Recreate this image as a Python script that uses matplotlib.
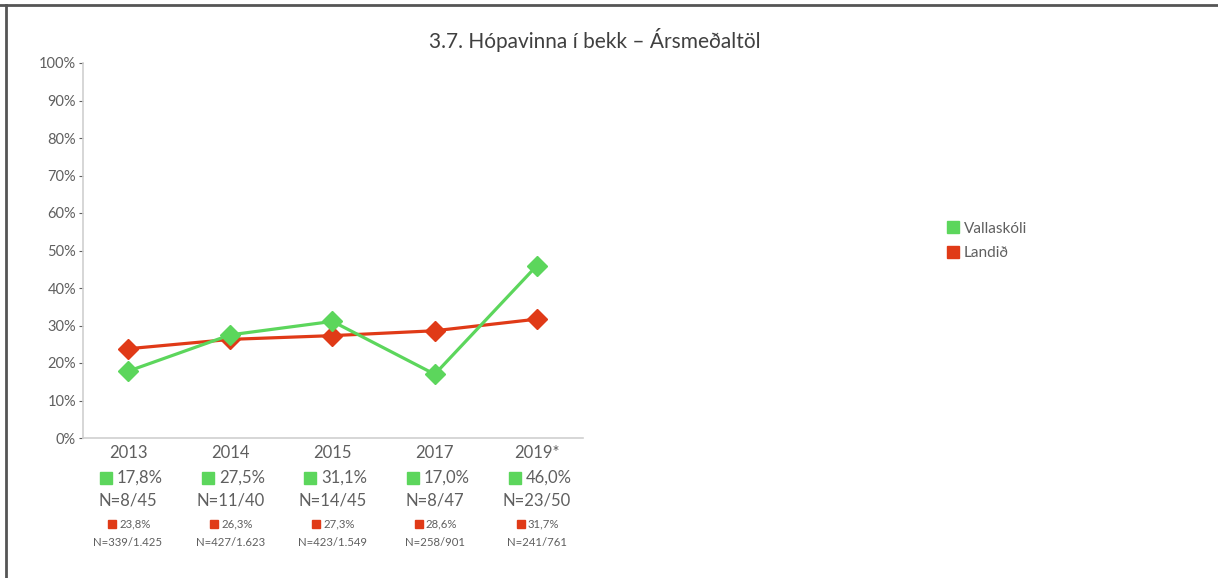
import matplotlib
matplotlib.use("Agg")
import matplotlib.pyplot as plt
from matplotlib.lines import Line2D
from matplotlib.transforms import blended_transform_factory, offset_copy

plt.rcParams['font.family'] = ['Lato', 'DejaVu Sans']

title = "3.7. Hópavinna í bekk – Ársmeðaltöl"
years = ["2013", "2014", "2015", "2017", "2019*"]
school_name = "Vallaskóli"
national_name = "Landið"
school_vals = [17.8, 27.5, 31.1, 17.0, 46.0]
national_vals = [23.8, 26.3, 27.3, 28.6, 31.7]
school_n = ["N=8/45", "N=11/40", "N=14/45", "N=8/47", "N=23/50"]
national_n = ["N=339/1.425", "N=427/1.623", "N=423/1.549", "N=258/901", "N=241/761"]
yticks = list(range(0, 101, 10))

GREEN = "#5cd65c"
RED = "#e03a17"
GRAY = "#5f5f5f"

W, H = 1218, 578
fig = plt.figure(figsize=(W / 100, H / 100), dpi=100)
ax = fig.add_axes([83 / W, (H - 438) / H, (583 - 83) / W, (438 - 63) / H])

x = list(range(len(years)))
ax.plot(x, school_vals, color=GREEN, lw=2.3, marker='D', ms=10, zorder=3)
ax.plot(x, national_vals, color=RED, lw=2.3, marker='D', ms=10, zorder=2)

ax.set_xlim(-0.44, 4.45)
ax.set_ylim(0, 100)
ax.set_yticks(yticks)
ax.set_yticklabels([f"{v}%" for v in yticks], color=GRAY, fontsize=10.5)
ax.set_xticks([])
for s in ["top", "right"]:
    ax.spines[s].set_visible(False)
for s in ["left", "bottom"]:
    ax.spines[s].set_color("#d0d0d0")
    ax.spines[s].set_linewidth(1.2)
ax.tick_params(axis='y', length=3, color=GRAY, pad=2)

px = 0.72  # points per pixel
btrans = blended_transform_factory(ax.transData, ax.transAxes)

def lab(i, dx, dy, txt, **kw):
    ax.annotate(txt, xy=(i, 0), xycoords=('data', 'axes fraction'),
                xytext=(dx * px, dy * px), textcoords='offset points',
                va='center', annotation_clip=False, **kw)

def square(i, dx, dy, color, size):
    tr = offset_copy(btrans, fig=fig, x=dx * px, y=dy * px, units='points')
    ax.plot([i], [0], transform=tr, marker='s', ms=size, color=color,
            ls='none', clip_on=False)

for i in x:
    lab(i, 0, -15, years[i], ha='center', color=GRAY, fontsize=12)
    square(i, -22, -40, GREEN, 8.5)
    lab(i, -11, -40, f"{school_vals[i]:.1f}%".replace('.', ','), ha='left', color=GRAY, fontsize=12)
    lab(i, 0, -63, school_n[i], ha='center', color=GRAY, fontsize=12)
    square(i, -16, -86, RED, 6)
    lab(i, -9, -86, f"{national_vals[i]:.1f}%".replace('.', ','), ha='left', color=GRAY, fontsize=8.2)
    lab(i, 0, -105, national_n[i], ha='center', color=GRAY, fontsize=8.2)

fig.text(595 / W, 1 - 40 / H, title, ha='center', va='center', color="#404040", fontsize=15)

handles = [Line2D([], [], ls='none', marker='s', ms=9, color=GREEN),
           Line2D([], [], ls='none', marker='s', ms=9, color=RED)]
fig.legend(handles, [school_name, national_name], loc='center left',
           bbox_to_anchor=(932 / W, 1 - 241 / H), frameon=False,
           handletextpad=0.2, labelspacing=0.7, fontsize=11, labelcolor=GRAY,
           handlelength=1.0)

# frame lines (top and left)
fig.add_artist(Line2D([0, 1], [1 - 5 / H, 1 - 5 / H], color="#555555", lw=2, transform=fig.transFigure))
fig.add_artist(Line2D([6 / W, 6 / W], [0, 1 - 5 / H], color="#555555", lw=2, transform=fig.transFigure))

fig.savefig("out.png", dpi=100, facecolor="white")
